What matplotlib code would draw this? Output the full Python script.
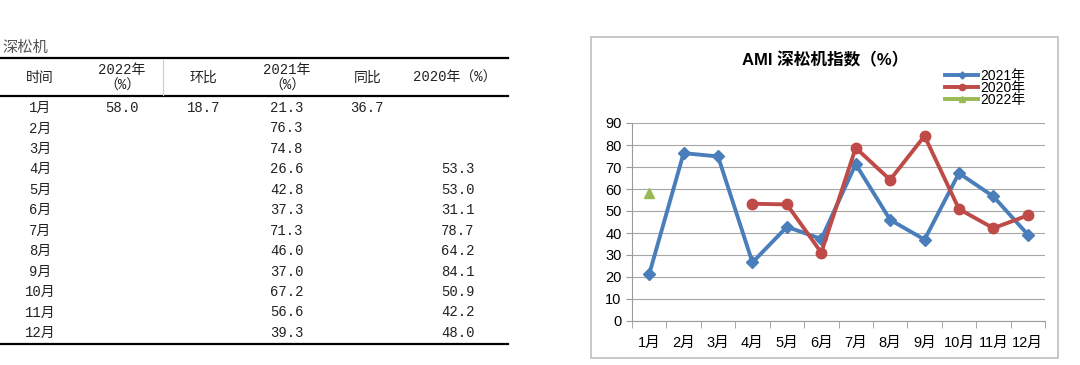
import matplotlib.pyplot as plt
import numpy as np
from matplotlib.patches import Rectangle

# datos
meses = ['1月', '2月', '3月', '4月', '5月', '6月', '7月', '8月', '9月', '10月', '11月', '12月']
v2021 = [21.3, 76.3, 74.8, 26.6, 42.8, 37.3, 71.3, 46.0, 37.0, 67.2, 56.6, 39.3]
v2020 = [np.nan, np.nan, np.nan, 53.3, 53.0, 31.1, 78.7, 64.2, 84.1, 50.9, 42.2, 48.0]
v2022 = [58.0]
huanbi = [18.7]
tongbi = [36.7]

cjk = ['Noto Sans CJK SC', 'DejaVu Sans']
mono = ['Liberation Mono', 'Noto Sans CJK SC']
chart_font = ['Liberation Sans', 'Noto Sans CJK SC']

fig = plt.figure(figsize=(10.8, 3.65), dpi=100)

# capa de fondo en "pixeles" para la tabla y el marco
bg = fig.add_axes([0, 0, 1, 1])
bg.set_xlim(0, 1080)
bg.set_ylim(365, 0)
bg.axis('off')

bg.text(2, 47, '深松机', family=cjk, fontsize=11, color='#555555', va='center', ha='left')
bg.plot([0, 508], [58, 58], color='black', lw=1.6)
bg.plot([0, 508], [96, 96], color='black', lw=1.6)
bg.plot([0, 508], [344, 344], color='black', lw=1.6)
bg.plot([163, 163], [60, 95], color='#cccccc', lw=0.8)

hdr = dict(family=mono, fontsize=10, ha='center', va='center', color='#222222')
bg.text(40, 78, '时间', **hdr)
bg.text(122, 70, '2022年', **hdr)
bg.text(122, 86, '（%）', **hdr)
bg.text(203, 78, '环比', **hdr)
bg.text(287, 70, '2021年', **hdr)
bg.text(287, 86, '（%）', **hdr)
bg.text(368, 78, '同比', **hdr)
bg.text(455, 78, '2020年（%）', **hdr)

row_y0 = 108
row_dy = 20.45
for i, m in enumerate(meses):
    y = row_y0 + i * row_dy
    bg.text(40, y, m, **hdr)
    bg.text(287, y, f'{v2021[i]:.1f}', **hdr)
    if not np.isnan(v2020[i]):
        bg.text(458, y, f'{v2020[i]:.1f}', **hdr)
for i, v in enumerate(v2022):
    y = row_y0 + i * row_dy
    bg.text(122, y, f'{v:.1f}', **hdr)
    bg.text(204, y, f'{huanbi[i]:.1f}', **hdr)
    bg.text(367, y, f'{tongbi[i]:.1f}', **hdr)

# marco del grafico
bg.add_patch(Rectangle((591, 37), 467, 321, fill=False, edgecolor='#bfbfbf', lw=1.2))

# grafico
ax = fig.add_axes([632 / 1080, 1 - 321 / 365, 413 / 1080, 198 / 365])
x = np.arange(len(meses))
azul, rojo, verde = '#4a7ebb', '#be4b48', '#98b954'
ax.plot(x, v2021, color=azul, lw=2.8, marker='D', ms=6, label='2021年')
ax.plot(x, v2020, color=rojo, lw=2.8, marker='o', ms=7.5, label='2020年')
ax.plot(x[:len(v2022)], v2022, color=verde, lw=2.8, marker='^', ms=7.5, label='2022年')

ax.set_xlim(-0.5, 11.5)
ax.set_ylim(0, 90)
ax.set_yticks(range(0, 91, 10))
ax.set_xticks(x)
ax.set_xticklabels(meses, family=chart_font, fontsize=10.5)
ax.set_xticks(np.arange(-0.5, 12, 1), minor=True)
ax.tick_params(axis='x', which='major', length=0, pad=11)
ax.tick_params(axis='x', which='minor', length=5, color='#9a9a9a')
ax.tick_params(axis='y', length=4, color='#9a9a9a', labelsize=10.5)
for lab in ax.get_yticklabels():
    lab.set_family(chart_font)
ax.grid(axis='y', color='#a6a6a6', lw=0.8)
ax.set_axisbelow(True)
for s in ['top', 'right']:
    ax.spines[s].set_visible(False)
ax.spines['left'].set_color('#9a9a9a')
ax.spines['bottom'].set_color('#9a9a9a')

fig.text(825 / 1080, 1 - 60 / 365, 'AMI 深松机指数（%）', family=chart_font,
         fontsize=12, fontweight='bold', ha='center', va='center')
ax.legend(loc='upper left', bbox_to_anchor=(938 / 1080, 1 - 62 / 365),
          bbox_transform=fig.transFigure, frameon=False,
          prop={'family': chart_font, 'size': 10}, handlelength=2.4,
          labelspacing=-0.15, handletextpad=0.15, borderpad=0, markerscale=0.6)

plt.savefig('out.png', dpi=100)
